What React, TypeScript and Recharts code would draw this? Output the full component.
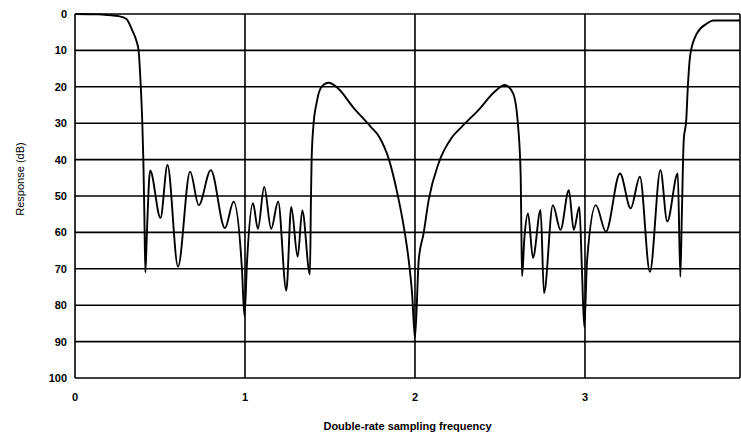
import React from 'react';
import { LineChart, Line, XAxis, YAxis, CartesianGrid, Label } from 'recharts';

// Частота (в долях двойной частоты дискретизации)
const freq = [
  0, 0.135, 0.196, 0.258, 0.301, 0.337, 0.362, 0.374, 0.387, 0.396, 0.402, 0.408, 0.414,
  0.423, 0.442, 0.503, 0.544, 0.606, 0.677, 0.728, 0.799, 0.882, 0.933, 0.982, 0.997, 1.012,
  1.047, 1.076, 1.113, 1.154, 1.195, 1.243, 1.272, 1.31, 1.337, 1.382, 1.388, 1.392, 1.402,
  1.421, 1.45, 1.493, 1.547, 1.634, 1.74, 1.789, 1.847, 1.895, 1.934, 1.963, 1.983, 2.0,
  2.022, 2.051, 2.081, 2.139, 2.216, 2.275, 2.373, 2.47, 2.528, 2.577, 2.607, 2.622, 2.626,
  2.63, 2.643, 2.665, 2.694, 2.739, 2.759, 2.811, 2.856, 2.905, 2.934, 2.967, 2.982, 2.996,
  3.012, 3.064, 3.123, 3.206, 3.269, 3.323, 3.382, 3.444, 3.484, 3.546, 3.561, 3.57, 3.581,
  3.596, 3.604, 3.62, 3.659, 3.718, 3.754, 3.912,
];

// Отклик (дБ затухания)
const response = [
  0, 0.1, 0.3, 0.6, 1.3, 4.5, 7.5, 10, 20, 30, 40, 55, 71,
  60, 43, 56, 41.5, 69.4, 43.3, 52.5, 42.9, 58.8, 51.6, 70, 83, 68,
  52, 59, 47.5, 59, 51.5, 76, 53, 66.7, 54, 71.5, 51, 40, 31,
  24.5, 20, 18.9, 20.4, 25.5, 31, 33.7, 40, 49, 58.4, 67.6, 76.8, 89,
  67.6, 60.2, 51, 41, 34, 31, 26.4, 21.3, 19.5, 21.8, 31, 44.7, 60,
  72, 62, 54.8, 67, 53.8, 76.7, 52.5, 59.3, 48.4, 59.3, 53, 70, 86,
  68, 52.5, 59.8, 43.8, 53.4, 44.7, 70.8, 42.9, 57, 43.8, 72.2, 55, 34.6,
  29, 21, 11, 5.3, 2.6, 1.8, 1.8,
];

const xTicks = [0, 1, 2, 3];
const yTicks = [0, 10, 20, 30, 40, 50, 60, 70, 80, 90, 100];

const data = freq.map((f, i) => ({ f, db: response[i] }));

const tickFont = { fill: '#000', fontSize: 11, fontWeight: 700, fontFamily: 'Liberation Sans, Arial, sans-serif' };

const App: React.FC = () => {
  return (
    <div style={{ position: 'absolute', left: 0, top: 0, width: 741, height: 436, background: '#fff' }}>
      <LineChart width={741} height={436} data={data} margin={{ top: 14, right: 1, left: 0, bottom: 0 }}>
        <CartesianGrid stroke="#000" strokeWidth={1.6} />
        <XAxis
          dataKey="f"
          type="number"
          domain={[0, 3.912]}
          ticks={xTicks}
          axisLine={false}
          tickLine={false}
          tickSize={0}
          tickMargin={15}
          height={58}
          tick={tickFont}
        >
          <Label
            value="Double-rate sampling frequency"
            position="insideBottom"
            offset={6}
            style={{ fill: '#000', fontSize: 11, fontWeight: 700, fontFamily: 'Liberation Sans, Arial, sans-serif' }}
          />
        </XAxis>
        <YAxis
          type="number"
          domain={[0, 100]}
          reversed
          ticks={yTicks}
          axisLine={false}
          tickLine={false}
          tickSize={0}
          tickMargin={8}
          width={75}
          tick={tickFont}
        >
          <Label
            content={() => (
              <text
                x={20}
                y={179}
                transform="rotate(-90 20 179)"
                textAnchor="middle"
                dominantBaseline="central"
                style={{ fill: '#000', fontSize: 11, fontFamily: 'Liberation Sans, Arial, sans-serif' }}
              >
                Response (dB)
              </text>
            )}
          />
        </YAxis>
        <Line
          type="monotone"
          dataKey="db"
          stroke="#000"
          strokeWidth={1.9}
          dot={false}
          isAnimationActive={false}
        />
      </LineChart>
    </div>
  );
};

export default App;
